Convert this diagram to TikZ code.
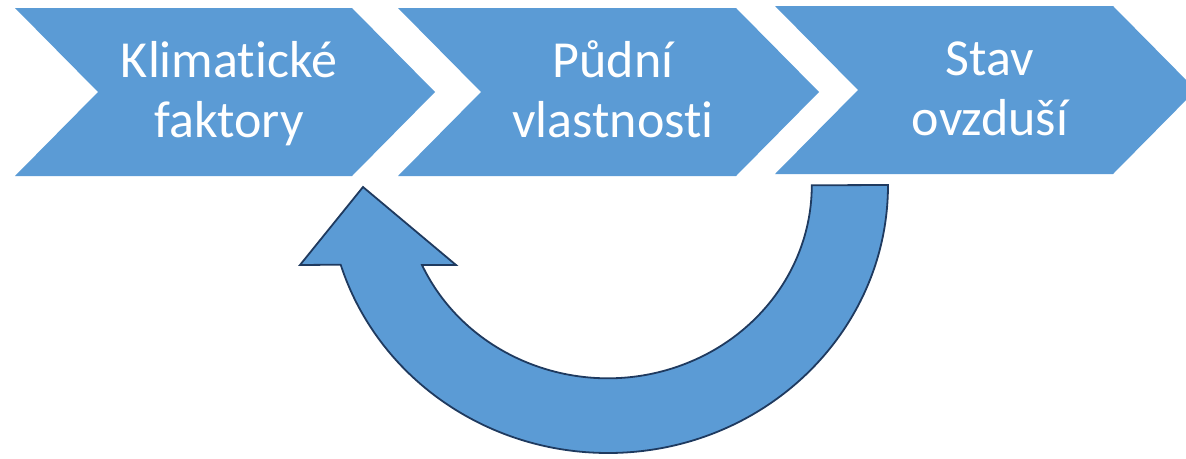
\documentclass[tikz,border=0pt]{standalone}
\usepackage{fontspec}
\setmainfont{Carlito}[Ligatures=NoCommon]
\definecolor{stepblue}{HTML}{5B9BD5}
\definecolor{edgenavy}{HTML}{1F3A5F}
\tikzset{
  chevron/.style={fill=stepblue, draw=none},
  steptext/.style={text=white, align=center, anchor=base,
    font=\fontsize{52}{60}\selectfont, inner sep=0pt},
  looparrow/.style={fill=stepblue, draw=edgenavy, line width=1.8pt, line join=miter}
}
\begin{document}
\begin{tikzpicture}[x=1pt, y=-1pt]
  \useasboundingbox (0,0) rectangle (1186,458);
  \clip (0,0) rectangle (1186,458);

  % three process chevrons
  \fill[chevron] (15,8) -- (352,8) -- (435,92) -- (352,176) -- (15,176) -- (98,92) -- cycle;
  \fill[chevron] (398,8) -- (736,8) -- (819,92) -- (736,176) -- (398,176) -- (481,92) -- cycle;
  \fill[chevron] (775,6) -- (1113,6) -- (1196,90) -- (1113,174) -- (775,174) -- (858,90) -- cycle;

  % labels; the base anchor sits on the last line's baseline
  \node[steptext] (klima) at (229,137) {Klimatické\\faktory};
  \node[steptext] (puda) at (613,137) {Půdní\\vlastnosti};
  \node[steptext] (ovzdusi) at (990,135) {Stav\\ovzduší};

  % feedback arrow running back under the chevrons
  \coordinate (arcc) at (608,185);
  \coordinate (tailout) at (888,185);
  \coordinate (headleft) at (300,265);
  \coordinate (headtip) at (363,187);
  \coordinate (headright) at (456,265);
  \coordinate (innerjoin) at (422,265);
  \draw[looparrow] (tailout)
    arc[start angle=0, end angle=-162.7, x radius=280, y radius=-268]
    -- (headleft) -- (headtip) -- (headright) -- (innerjoin)
    arc[start angle=-155.6, end angle=0, x radius=204, y radius=-193]
    -- cycle;
\end{tikzpicture}
\end{document}
